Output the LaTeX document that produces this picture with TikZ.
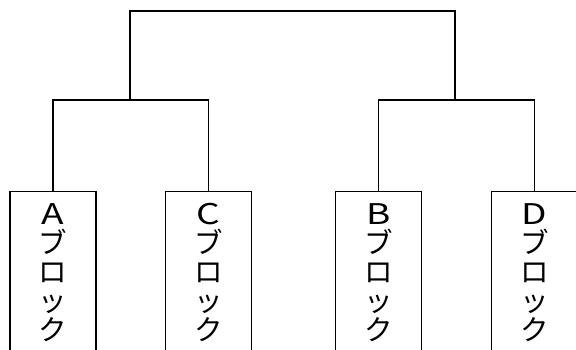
\documentclass[tikz,border=0pt]{standalone}
\usepackage{fontspec}
\usepackage{graphicx}
\newfontfamily\cjk{Noto Sans CJK JP}
\newcommand{\wideltr}[1]{\scalebox{1.3}[1]{#1}}
\begin{document}
\begin{tikzpicture}[x=1pt,y=1pt,
  line width=1.3pt,
  blockbox/.style={draw, rectangle, minimum width=86pt, minimum height=162pt,
    inner sep=0pt, align=center, anchor=north,
    font=\cjk\fontsize{28.5}{29}\selectfont}]
\useasboundingbox (0,0) rectangle (576,349);
\clip (0,0) rectangle (576,349);
\node[blockbox] (A) at (53,158) {\wideltr{A}\\ブ\\ロ\\ッ\\ク};
\node[blockbox] (C) at (208.5,158) {\wideltr{C}\\ブ\\ロ\\ッ\\ク};
\node[blockbox] (B) at (378.5,158) {\wideltr{B}\\ブ\\ロ\\ッ\\ク};
\node[blockbox] (D) at (534.5,158) {\wideltr{D}\\ブ\\ロ\\ッ\\ク};
\coordinate (L) at (130,249);
\coordinate (R) at (455,249);
\coordinate (T) at (292,338);
\draw (A.north) |- (L) -| (C.north);
\draw (B.north) |- (R) -| (D.north);
\draw (L) |- (T) -| (R);
\end{tikzpicture}
\end{document}
